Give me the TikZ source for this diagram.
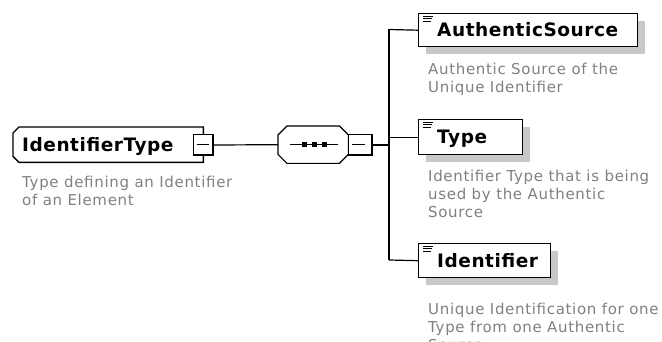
\documentclass[tikz,border=0pt]{standalone}
\usepackage{fontspec}
\setmainfont{DejaVu Sans}
\usetikzlibrary{shadows}
\definecolor{shadowgray}{RGB}{200,200,200}
\definecolor{descgray}{RGB}{128,128,128}
\begin{document}
\begin{tikzpicture}[x=1pt,y=-1pt,
  shadowed/.style={drop shadow={shadow xshift=7pt,shadow yshift=-7pt,fill=shadowgray,opacity=1}},
  elem/.style={draw=black,line width=1.4pt,fill=white,rectangle,inner sep=0pt,anchor=north west,shadowed},
  frame/.style={draw=none,rectangle,inner sep=0pt,anchor=north west},
  outline/.style={draw=black,fill=white,line width=1.4pt},
  shade/.style={fill=shadowgray},
  minusbox/.style={draw=black,line width=1pt,fill=white,rectangle,inner sep=0pt,
    minimum width=20pt,minimum height=20pt},
  lbl/.style={anchor=base west,inner sep=0pt,font=\addfontfeatures{LetterSpace=3}\bfseries\fontsize{18.5}{22}\selectfont},
  desc/.style={anchor=base west,inner sep=0pt,align=left,text=descgray,font=\addfontfeatures{LetterSpace=4.5}\fontsize{15}{18}\selectfont},
  conn/.style={draw=black,line width=1.2pt},
  icon/.style={draw=black,line width=0.9pt}
]
\useasboundingbox (0,0) rectangle (662,342);

% complex type
\node[frame,minimum width=190pt,minimum height=35pt] (ct) at (13,127) {};
\fill[shade,shift={(7,7)}] ([xshift=6pt]ct.north west) -- (ct.north east) -- (ct.south east)
  -- ([xshift=6pt]ct.south west) -- ([yshift=6pt]ct.south west) -- ([yshift=-6pt]ct.north west) -- cycle;
\path[outline] ([xshift=6pt]ct.north west) -- (ct.north east) -- (ct.south east)
  -- ([xshift=6pt]ct.south west) -- ([yshift=6pt]ct.south west) -- ([yshift=-6pt]ct.north west) -- cycle;
\node[lbl] (cttxt) at (22,151.5) {IdentifierType};
\node[minusbox] (ctm) at (203,145) {};
\draw[line width=2pt] ([xshift=-0.5pt]ctm.north east) -- ([xshift=-0.5pt,yshift=0.5pt]ctm.south east) -- ([yshift=0.5pt]ctm.south west);
\draw[line width=1pt] ([xshift=4pt]ctm.west) -- ([xshift=-5pt]ctm.east);
\node[desc] (ctdesc) at (22,206) {Type defining an Identifier\\of an Element};

% sequence
\node[frame,minimum width=70pt,minimum height=37pt] (sq) at (278,126) {};
\fill[shade,shift={(7,7)}] ([xshift=9pt]sq.north west) -- ([xshift=-9pt]sq.north east) -- ([yshift=-9pt]sq.north east)
  -- ([yshift=9pt]sq.south east) -- ([xshift=-9pt]sq.south east) -- ([xshift=9pt]sq.south west)
  -- ([yshift=9pt]sq.south west) -- ([yshift=-9pt]sq.north west) -- cycle;
\path[outline,line width=1.2pt] ([xshift=9pt]sq.north west) -- ([xshift=-9pt]sq.north east) -- ([yshift=-9pt]sq.north east)
  -- ([yshift=9pt]sq.south east) -- ([xshift=-9pt]sq.south east) -- ([xshift=9pt]sq.south west)
  -- ([yshift=9pt]sq.south west) -- ([yshift=-9pt]sq.north west) -- cycle;
\draw[line width=1pt] (290,145) -- (338,145);
\fill (302,142.5) rectangle (307,147.5);
\fill (312,142.5) rectangle (317,147.5);
\fill (322,142.5) rectangle (327,147.5);
\node[minusbox,minimum width=24pt] (sqm) at (360,145) {};
\draw[line width=2pt] ([xshift=-0.5pt]sqm.north east) -- ([xshift=-0.5pt,yshift=0.5pt]sqm.south east) -- ([yshift=0.5pt]sqm.south west);
\draw[line width=1pt] ([xshift=4pt]sqm.west) -- ([xshift=-8pt]sqm.east);

\draw[conn] (ctm.east) -- (sq.west);

% children
\node[elem,minimum width=219pt,minimum height=33pt] (as) at (418,13) {};
\node[lbl] (astxt) at (437,36.5) {AuthenticSource};
\node[desc] (asdesc) at (428,92.5) {Authentic Source of the\\Unique Identifier};

\node[elem,minimum width=104pt,minimum height=35pt] (ty) at (418,119) {};
\node[lbl] (tytxt) at (437,143.5) {Type};
\node[desc] (tydesc) at (428,218) {Identifier Type that is being\\used by the Authentic\\Source};

\node[elem,minimum width=132pt,minimum height=34pt] (id) at (418,243) {};
\node[lbl] (idtxt) at (437,267) {Identifier};
\node[desc] (iddesc) at (428,350) {Unique Identification for one\\Type from one Authentic\\Source};

\foreach \n in {as,ty,id}{
  \draw[icon] ([xshift=5pt,yshift=-3pt]\n.north west) -- +(10pt,0);
  \draw[icon] ([xshift=5pt,yshift=-5.5pt]\n.north west) -- +(9pt,0);
  \draw[icon] ([xshift=5pt,yshift=-8pt]\n.north west) -- +(8pt,0);
}

% connectors
\coordinate (bartop) at (389,29.5);
\coordinate (barbot) at (389,260);
\draw[conn] (sqm.east) -- (sqm.east -| bartop);
\draw[conn] (bartop) -- (barbot);
\draw[conn] (bartop) -- (as.west);
\draw[conn] (bartop |- ty.west) -- (ty.west);
\draw[conn] (barbot) -- (id.west);
\end{tikzpicture}
\end{document}
